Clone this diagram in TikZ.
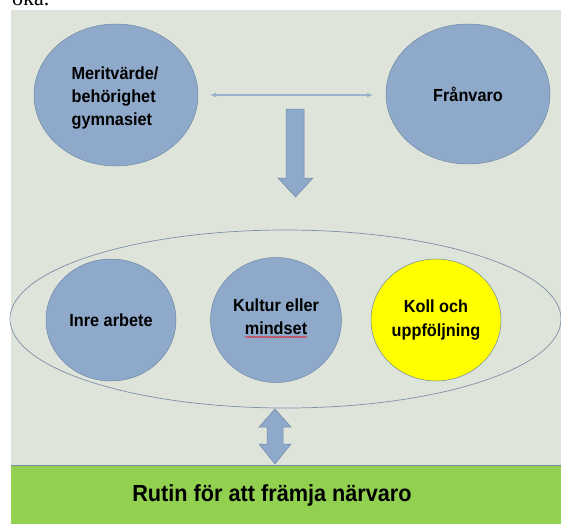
\documentclass[tikz,border=0pt]{standalone}
\usepackage{fontspec}
\setmainfont{Liberation Sans}
\newfontfamily\narrowface[FakeStretch=0.93]{Liberation Sans}
\newfontfamily\serifface{Liberation Serif}
\usetikzlibrary{shapes.geometric,arrows.meta,decorations.pathmorphing}
\definecolor{panelbg}{HTML}{DFE4DA}
\definecolor{bluefill}{HTML}{8EA9C9}
\definecolor{blueline}{HTML}{6F87A6}
\definecolor{thinarrow}{HTML}{9BB2CE}
\definecolor{bigline}{HTML}{7D8FA8}
\definecolor{greenbar}{HTML}{92D050}
\definecolor{yellowfill}{HTML}{FFFF00}
\tikzset{
  labelfont/.style={font=\narrowface\fontsize{17.5}{23.3}\selectfont\bfseries},
  bubble/.style={ellipse, draw=blueline, line width=0.5pt, fill=bluefill, inner sep=0pt,
    labelfont, align=center},
  blockarrow/.style={draw=blueline, line width=0.5pt, fill=bluefill},
}
\begin{document}
\begin{tikzpicture}[x=1pt,y=-1pt]
\useasboundingbox (0,0) rectangle (561,524);
\fill[white] (0,0) rectangle (561,524);
\node[anchor=base west, font=\serifface\fontsize{22}{26}\selectfont, inner sep=0pt] (oka) at (12,6) {öka.};
\fill[panelbg] (11,10) rectangle (561,524);
% green bar
\fill[greenbar] (11,465) rectangle (561,524);
\draw[bigline, line width=0.6pt] (11,465) -- (561,465);
\node[font=\narrowface\fontsize{23.3}{27}\selectfont\bfseries] (rutin) at (272,495) {Rutin för att främja närvaro};
% top ellipses
\node[bubble, minimum width=164pt, minimum height=142pt] (merit) at (116,95) {};
\node[labelfont, align=left] (merittext) at (115,98) {Meritvärde/\\behörighet\\gymnasiet};
\node[bubble, minimum width=164pt, minimum height=140pt] (fran) at (468,94) {Frånvaro};
\draw[thinarrow, line width=1.2pt, {Latex[length=6pt,width=5pt]}-{Latex[length=6pt,width=5pt]}] (210,95) -- (373,95);
% down block arrow
\draw[blockarrow] (286,109) -- (304,109) -- (304,178) -- (313,178) -- (295.5,197) -- (278,178) -- (286,178) -- cycle;
% big ellipse
\node[ellipse, draw=bigline, line width=0.7pt, minimum width=551pt, minimum height=178pt, inner sep=0pt] (big) at (285.5,319) {};
\node[bubble, minimum width=130pt, minimum height=122pt] (inre) at (111,320) {Inre arbete};
\node[bubble, minimum width=131pt, minimum height=125pt] (kultur) at (276,320) {};
\node[labelfont, align=center] (kulturtext) at (276,317) {Kultur eller\\mindset};
\draw[red, line width=0.5pt, decorate, decoration={snake, amplitude=0.6pt, segment length=2.5pt}] (245,337) -- (307,337);
\node[bubble, fill=yellowfill, minimum width=130pt, minimum height=122pt] (koll) at (436,320) {Koll och\\uppföljning};
% double block arrow
\draw[blockarrow] (275,409) -- (291,427) -- (283,427) -- (283,444) -- (291,444) -- (275,464) -- (259,444) -- (267,444) -- (267,427) -- (259,427) -- cycle;
\end{tikzpicture}
\end{document}
